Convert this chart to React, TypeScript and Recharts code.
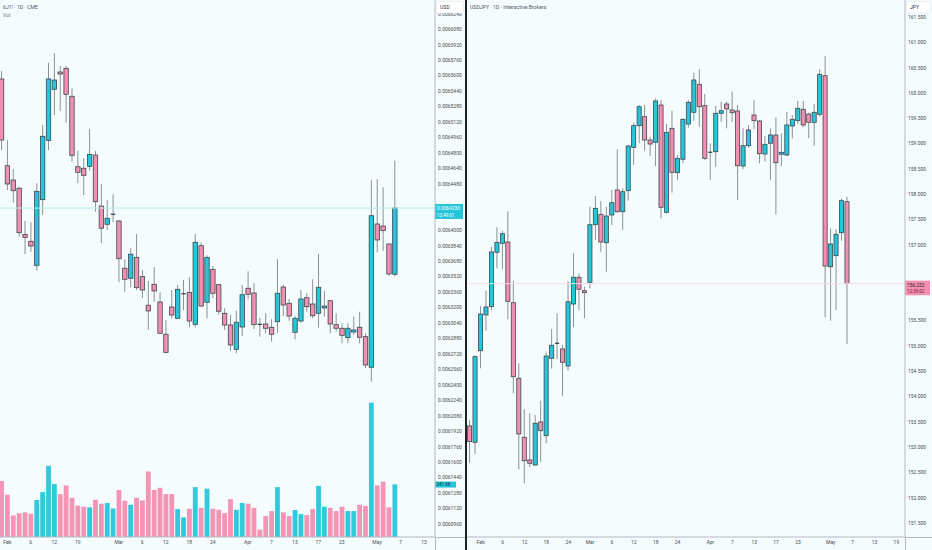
import React from 'react';
import { ComposedChart, Bar, XAxis, YAxis, ReferenceLine } from 'recharts';

const BG = '#F4FCFE';
const UP = '#26C6DA';
const DOWN = '#F48FB1';
const BORDER = '#3B4850';
const WICK = '#8C9196';
const AXIS = '#B4B9C1';
const TXT = '#4A4D52';
const FONT = 'Roboto, "Liberation Sans", sans-serif';

// ---------- 6J1! (CME) daily, index 0 = Jan 30 ----------
const jpyOpen = [
  0.0065566, 0.0064668, 0.006452, 0.0064435, 0.0063958, 0.0063886, 0.0063638, 0.0064317, 0.0064931, 0.0065459,
  0.0065638, 0.0065676, 0.0065387, 0.0064658, 0.0064642, 0.0064662, 0.0064779, 0.0064251, 0.0064062, 0.0064165,
  0.0064096, 0.0063607, 0.0063503, 0.006372, 0.006352, 0.0063224, 0.0063441, 0.0063258, 0.0062924, 0.0063206,
  0.0063089, 0.0063343, 0.0063358, 0.0063027, 0.006384, 0.0063255, 0.0063596, 0.0063437, 0.0063141, 0.006302,
  0.0062768, 0.0062999, 0.00634, 0.0063351, 0.0063028, 0.006303, 0.0062996, 0.0063054, 0.0063413, 0.0063244,
  0.0062944, 0.0063061, 0.0063302, 0.0063237, 0.0063141, 0.0063196, 0.0063271, 0.0063023, 0.0062986, 0.0062888,
  0.0062947, 0.0062996, 0.0062899, 0.0062582, 0.0064065, 0.0064044, 0.0063858, 0.0063545,
];
const jpyHigh = [
  0.0065648, 0.0064934, 0.0064634, 0.0064451, 0.0064096, 0.0064083, 0.0064486, 0.006509, 0.0065734, 0.0065832,
  0.00657, 0.00657, 0.0065469, 0.0064824, 0.0064745, 0.0065048, 0.0064821, 0.0064476, 0.0064313, 0.0064372,
  0.0064106, 0.00637, 0.0063814, 0.0063962, 0.0063589, 0.0063475, 0.006362, 0.0063358, 0.0063072, 0.0063382,
  0.0063434, 0.0063486, 0.0063513, 0.0063962, 0.0063872, 0.0063741, 0.006363, 0.0063445, 0.0063193, 0.0063123,
  0.0063168, 0.0063434, 0.0063576, 0.0063451, 0.0063095, 0.0063141, 0.0063079, 0.00637, 0.0063434, 0.0063289,
  0.0063113, 0.0063382, 0.0063348, 0.0063493, 0.0063755, 0.0063372, 0.0063279, 0.0063141, 0.0063037, 0.0063037,
  0.0063106, 0.0063157, 0.0062934, 0.006452, 0.0064528, 0.0064445, 0.0063865, 0.006472,
];
const jpyLow = [
  0.0064831, 0.0064417, 0.0064286, 0.0063934, 0.0063755, 0.0063778, 0.0063582, 0.0064161, 0.0064831, 0.0065193,
  0.0065235, 0.0065113, 0.006471, 0.0064486, 0.0064365, 0.0064617, 0.0064192, 0.0063865, 0.0064003, 0.0064083,
  0.0063462, 0.0063364, 0.006341, 0.0063382, 0.0063296, 0.0062968, 0.0063261, 0.0062927, 0.0062727, 0.0063089,
  0.0063079, 0.0063175, 0.0062996, 0.0062996, 0.0063209, 0.0063089, 0.0063296, 0.0063126, 0.0062968, 0.0062751,
  0.0062727, 0.0062906, 0.0063286, 0.0062978, 0.0062899, 0.0062934, 0.0062847, 0.0062934, 0.0063113, 0.0063064,
  0.0062872, 0.0063044, 0.0063157, 0.0063089, 0.0062992, 0.0063106, 0.0062934, 0.006295, 0.006283, 0.006283,
  0.0062916, 0.006283, 0.0062572, 0.0062433, 0.0063772, 0.0063789, 0.006353, 0.006352,
];
const jpyClose = [
  0.0064934, 0.0064479, 0.006441, 0.0063975, 0.0063927, 0.0063837, 0.0064403, 0.0064973, 0.0065566, 0.0065555,
  0.0065617, 0.0065407, 0.0064776, 0.00646, 0.0064569, 0.0064786, 0.0064296, 0.0064021, 0.0064124, 0.0064167,
  0.0063706, 0.0063493, 0.0063752, 0.0063406, 0.0063382, 0.0063165, 0.0063372, 0.0062934, 0.0062737, 0.0063123,
  0.0063389, 0.0063345, 0.0063061, 0.0063876, 0.0063216, 0.006372, 0.0063348, 0.0063162, 0.006302, 0.0062813,
  0.0063048, 0.0063333, 0.0063338, 0.0063023, 0.0063026, 0.0062986, 0.0062924, 0.0063348, 0.0063227, 0.0063113,
  0.0063089, 0.0063289, 0.0063209, 0.0063116, 0.006341, 0.0063216, 0.006303, 0.0062986, 0.0062913, 0.0062986,
  0.0062968, 0.0062893, 0.0062606, 0.0064151, 0.00639, 0.0063996, 0.0063548, 0.006423,
];
const jpyVolume = [
  257000, 194000, 99000, 109000, 113000, 107000, 170000, 206000, 327000, 243000,
  197000, 237000, 180000, 144000, 139000, 136000, 171000, 153000, 156000, 131000,
  216000, 167000, 148000, 180000, 168000, 301000, 216000, 226000, 197000, 197000,
  128000, 90000, 130000, 229000, 134000, 222000, 130000, 125000, 110000, 174000,
  125000, 156000, 153000, 134000, 34000, 96000, 119000, 229000, 113000, 96000,
  124000, 105000, 101000, 128000, 235000, 139000, 134000, 119000, 139000, 119000,
  119000, 148000, 142000, 617000, 237000, 254000, 136000, 241600,
];
const jpyPriceTicks = [
  0.006096, 0.006112, 0.006128, 0.006144, 0.00616, 0.006176, 0.006192, 0.006208, 0.006224, 0.00624,
  0.006256, 0.006272, 0.006288, 0.006304, 0.00632, 0.006336, 0.006352, 0.006368, 0.006384, 0.0064,
  0.006416, 0.006432, 0.006448, 0.006464, 0.00648, 0.006496, 0.006512, 0.006528, 0.006544, 0.00656,
  0.006576, 0.006592, 0.006608, 0.006624,
];
const jpyDateTickIdx = [1, 5, 9, 13, 20, 24, 28, 32, 36, 42, 46, 50, 54, 58, 64, 68, 72];
const jpyDateTickLabels = ['Feb', '6', '12', '19', 'Mar', '6', '12', '18', '24', 'Apr', '7', '13', '17', '23', 'May', '7', '13'];
const jpyLast = 0.006423;
const jpyLastVol = 241600;

// ---------- USDJPY (Interactive Brokers) daily, index -2 = Jan 29 ----------
const USD_FIRST_INDEX = -2;
const usdOpen = [
  153.419, 153.097, 154.907, 155.613, 155.777, 156.852, 157.03, 157.055, 155.856, 154.362,
  153.196, 152.747, 152.648, 153.498, 153.227, 154.757, 155.053, 154.941, 154.605, 155.83,
  156.358, 156.093, 156.259, 157.397, 157.603, 157.042, 157.589, 158.083, 157.654, 158.069,
  158.927, 159.354, 159.532, 159.071, 159.026, 159.763, 157.642, 159.302, 158.425, 158.69,
  159.387, 159.619, 160.172, 159.749, 158.828, 158.84, 159.599, 159.783, 159.664, 159.644,
  158.557, 158.958, 159.565, 159.447, 158.794, 159.006, 159.17, 158.789, 158.775, 159.348,
  159.453, 159.678, 159.585, 159.421, 159.579, 160.342, 156.567, 156.785, 157.239, 157.852,
];
const usdHigh = [
  153.538, 154.812, 155.791, 156.093, 156.962, 157.346, 157.273, 157.662, 156.291, 154.658,
  153.749, 153.67, 153.636, 153.919, 154.875, 155.336, 155.646, 155.02, 156.285, 156.832,
  156.437, 156.172, 157.753, 157.964, 157.866, 157.753, 158.083, 158.887, 158.117, 158.972,
  159.413, 159.763, 159.763, 159.136, 159.895, 159.862, 159.387, 159.65, 158.775, 159.5,
  159.862, 160.401, 160.468, 159.98, 159.006, 159.743, 159.828, 159.828, 160.026, 159.763,
  159.302, 159.368, 159.862, 159.466, 159.15, 159.302, 159.52, 159.204, 159.63, 159.565,
  159.842, 159.842, 159.611, 159.783, 160.468, 160.731, 157.326, 157.306, 157.919, 157.951,
];
const usdLow = [
  152.694, 152.866, 154.559, 155.302, 155.711, 156.536, 156.516, 155.528, 154.065, 152.563,
  152.287, 152.603, 152.638, 152.713, 153.077, 154.551, 154.737, 154.012, 154.512, 155.37,
  155.711, 155.547, 156.14, 157.095, 156.858, 156.468, 157.391, 157.634, 157.292, 157.872,
  158.577, 159.006, 158.86, 158.755, 158.557, 157.524, 157.619, 158.03, 158.281, 158.611,
  159.314, 159.453, 159.334, 158.676, 158.281, 158.543, 159.433, 159.302, 159.433, 157.885,
  158.498, 158.919, 159.289, 158.611, 158.642, 158.281, 157.603, 158.557, 158.755, 159.105,
  159.387, 159.322, 159.105, 158.958, 159.532, 155.567, 155.5, 155.711, 157.081, 155.04,
];
const usdClose = [
  153.109, 154.789, 155.632, 155.771, 156.858, 157.049, 157.219, 155.883, 154.393, 153.261,
  152.733, 152.682, 153.472, 153.326, 154.802, 155.014, 155.056, 154.678, 155.875, 156.358,
  156.121, 156.053, 157.397, 157.721, 157.055, 157.569, 157.832, 157.654, 158.049, 158.953,
  159.354, 159.729, 159.071, 158.992, 159.842, 157.741, 159.223, 158.433, 158.709, 159.48,
  159.816, 160.257, 159.729, 158.709, 158.831, 159.599, 159.65, 159.684, 159.611, 158.563,
  158.958, 159.269, 159.453, 158.8, 158.986, 159.17, 158.623, 158.828, 159.368, 159.48,
  159.698, 159.368, 159.421, 159.619, 160.37, 156.581, 157.016, 157.208, 157.872, 156.232,
];
const usdPriceTicks = [
  151.5, 152, 152.5, 153, 153.5, 154, 154.5, 155, 155.5, 156, 156.5,
  157, 157.5, 158, 158.5, 159, 159.5, 160, 160.5, 161, 161.5,
];
const usdDateTickIdx = [0, 4, 8, 12, 16, 20, 24, 28, 32, 36, 42, 46, 50, 54, 58, 64, 68, 72, 76];
const usdDateTickLabels = ['Feb', '6', '12', '18', '24', 'Mar', '6', '12', '18', '24', 'Apr', '7', '13', '17', '23', 'May', '7', '13', '19'];
const usdLast = 156.232;

// ---------- tables for the library ----------
const jpyRows = jpyOpen.map((o, k) => ({
  i: k,
  o,
  h: jpyHigh[k],
  l: jpyLow[k],
  c: jpyClose[k],
  range: [jpyLow[k], jpyHigh[k]],
  vol: jpyVolume[k],
}));
const usdRows = usdOpen.map((o, k) => ({
  i: k + USD_FIRST_INDEX,
  o,
  h: usdHigh[k],
  l: usdLow[k],
  c: usdClose[k],
  range: [usdLow[k], usdHigh[k]],
}));

const JPY_X_DOMAIN: [number, number] = [-0.2385, 73.867];
const JPY_Y_DOMAIN: [number, number] = [0.00608258, 0.00663832];
const VOL_DOMAIN: [number, number] = [0, 2466000];
const USD_X_DOMAIN: [number, number] = [-2.5046, 77.569];
const USD_Y_DOMAIN: [number, number] = [151.225, 161.838];

function Candle(props: any) {
  const { x, y, width, height, payload, bw } = props;
  if (!payload || x == null) return null;
  const { o, h, l, c } = payload;
  const top = Math.min(y, y + height);
  const bot = Math.max(y, y + height);
  const span = h - l;
  const py = (v: number) => (span > 0 ? top + ((h - v) / span) * (bot - top) : top);
  const cx = x + width / 2;
  const yo = py(o);
  const yc = py(c);
  const bTop = Math.min(yo, yc);
  const bH = Math.abs(yo - yc);
  const up = c >= o;
  return (
    <g>
      <line x1={cx} x2={cx} y1={top} y2={bot} stroke={WICK} strokeWidth={1} />
      {bH < 1.3 ? (
        <rect x={cx - bw / 2} y={bTop - 0.5} width={bw} height={1.3} fill={BORDER} />
      ) : (
        <rect
          x={cx - bw / 2}
          y={bTop}
          width={bw}
          height={bH}
          fill={up ? UP : DOWN}
          stroke={BORDER}
          strokeWidth={0.8}
        />
      )}
    </g>
  );
}

function VolBar(props: any) {
  const { x, y, width, height, payload } = props;
  if (!payload || x == null) return null;
  const cx = x + width / 2;
  const top = Math.min(y, y + height);
  return (
    <rect
      x={cx - 2.4}
      y={top}
      width={4.8}
      height={Math.abs(height)}
      fill={payload.c >= payload.o ? UP : DOWN}
      fillOpacity={0.95}
    />
  );
}

// Tick labels that sit under the live-price badge are covered in the reference.
function PriceTick(props: any) {
  const { x, y, payload, digits, hideNear, hideTol } = props;
  if (Math.abs(Number(payload.value) - hideNear) < hideTol) return null;
  return (
    <text x={x} y={y + 1.8} fontSize={5} fill={TXT} fontFamily={FONT} textAnchor="start">
      {Number(payload.value).toFixed(digits)}
    </text>
  );
}

function DateTick(props: any) {
  const { x, y, payload, idx, labels } = props;
  const k = idx.indexOf(payload.value);
  if (k < 0) return null;
  return (
    <text x={x} y={y + 7} fontSize={5} fill={TXT} fontFamily={FONT} textAnchor="middle">
      {labels[k]}
    </text>
  );
}

function PriceTag(props: any) {
  const { viewBox, line1, line2, bg, fg1, fg2, w, dyTop, h } = props;
  if (!viewBox) return null;
  const x = viewBox.x + viewBox.width;
  const y = viewBox.y;
  return (
    <g>
      <rect x={x} y={y - dyTop} width={w} height={h} fill={bg} />
      <text x={x + 2} y={y - dyTop + 6} fontSize={4.8} fill={fg1} fontFamily={FONT}>
        {line1}
      </text>
      <text x={x + 2} y={y - dyTop + 12.8} fontSize={4.5} fill={fg2} fontFamily={FONT}>
        {line2}
      </text>
    </g>
  );
}

function VolTag(props: any) {
  const { viewBox, text } = props;
  if (!viewBox) return null;
  const x = viewBox.x + viewBox.width;
  const y = viewBox.y;
  return (
    <g>
      <rect x={x} y={y - 2.8} width={21} height={6} fill={UP} />
      <text x={x + 1.5} y={y + 1.7} fontSize={4.5} fill="#10343a" fontFamily={FONT}>
        {text}
      </text>
    </g>
  );
}

export default function App() {
  return (
    <div
      style={{
        position: 'absolute',
        left: 0,
        top: 0,
        width: 932,
        height: 550,
        background: BG,
        overflow: 'hidden',
        fontFamily: FONT,
      }}
    >
      {/* Left pane: 6J1! */}
      <div style={{ position: 'absolute', left: 0, top: 0 }}>
        <ComposedChart width={465} height={550} data={jpyRows} margin={{ top: 0, right: 0, bottom: 0, left: 0 }}>
          <XAxis xAxisId="vx" dataKey="i" type="number" domain={JPY_X_DOMAIN} allowDataOverflow hide />
          <YAxis yAxisId="vol" type="number" domain={VOL_DOMAIN} allowDataOverflow hide />
          <XAxis
            dataKey="i"
            type="number"
            domain={JPY_X_DOMAIN}
            allowDataOverflow
            ticks={jpyDateTickIdx}
            interval={0}
            height={13}
            tickLine={false}
            tickSize={0}
            tickMargin={0}
            axisLine={{ stroke: AXIS }}
            tick={<DateTick idx={jpyDateTickIdx} labels={jpyDateTickLabels} />}
          />
          <YAxis
            orientation="right"
            type="number"
            width={30}
            domain={JPY_Y_DOMAIN}
            allowDataOverflow
            ticks={jpyPriceTicks}
            interval={0}
            tickLine={false}
            tickSize={0}
            tickMargin={3}
            axisLine={{ stroke: AXIS }}
            tick={<PriceTick digits={7} hideNear={jpyLast} hideTol={0.0000095} />}
          />
          <Bar
            xAxisId="vx"
            yAxisId="vol"
            dataKey="vol"
            shape={(p: any) => <VolBar {...p} />}
            isAnimationActive={false}
          />
          <ReferenceLine y={jpyLast} stroke="#B6ECF3" strokeWidth={1} />
          <Bar dataKey="range" shape={(p: any) => <Candle {...p} bw={4.4} />} isAnimationActive={false} />
          <ReferenceLine
            y={jpyLast}
            stroke="none"
            label={
              <PriceTag
                line1="0.0064230"
                line2="13:49:01"
                bg={UP}
                fg1="#ffffff"
                fg2="#ffffff"
                w={28}
                dyTop={4.1}
                h={15}
              />
            }
          />
          <ReferenceLine
            xAxisId="vx"
            yAxisId="vol"
            y={jpyLastVol}
            stroke="none"
            label={<VolTag text="241.6K" />}
          />
        </ComposedChart>
      </div>

      {/* Right pane: USDJPY */}
      <div style={{ position: 'absolute', left: 467, top: 0 }}>
        <ComposedChart width={465} height={550} data={usdRows} margin={{ top: 0, right: 0, bottom: 0, left: 0 }}>
          <XAxis
            dataKey="i"
            type="number"
            domain={USD_X_DOMAIN}
            allowDataOverflow
            ticks={usdDateTickIdx}
            interval={0}
            height={13}
            tickLine={false}
            tickSize={0}
            tickMargin={0}
            axisLine={{ stroke: AXIS }}
            tick={<DateTick idx={usdDateTickIdx} labels={usdDateTickLabels} />}
          />
          <YAxis
            orientation="right"
            type="number"
            width={27}
            domain={USD_Y_DOMAIN}
            allowDataOverflow
            ticks={usdPriceTicks}
            interval={0}
            tickLine={false}
            tickSize={0}
            tickMargin={3}
            axisLine={{ stroke: AXIS }}
            tick={<PriceTick digits={3} hideNear={usdLast} hideTol={0.3} />}
          />
          <ReferenceLine y={usdLast} stroke="#F5DCE4" strokeWidth={1} />
          <Bar dataKey="range" shape={(p: any) => <Candle {...p} bw={4.1} />} isAnimationActive={false} />
          <ReferenceLine
            y={usdLast}
            stroke="none"
            label={
              <PriceTag
                line1="156.232"
                line2="12:39:02"
                bg={DOWN}
                fg1="#2a1a20"
                fg2="#6b1d35"
                w={25}
                dyTop={3}
                h={14.6}
              />
            }
          />
        </ComposedChart>
      </div>

      {/* Frame, headers and scale badges */}
      <svg
        width={932}
        height={550}
        style={{ position: 'absolute', left: 0, top: 0, pointerEvents: 'none' }}
      >
        <line x1={435} x2={465} y1={537.5} y2={537.5} stroke={AXIS} strokeWidth={1} />
        <line x1={435.5} x2={435.5} y1={537} y2={550} stroke={AXIS} strokeWidth={1} />
        <line x1={905} x2={932} y1={537.5} y2={537.5} stroke={AXIS} strokeWidth={1} />
        <line x1={905.5} x2={905.5} y1={537} y2={550} stroke={AXIS} strokeWidth={1} />
        <rect x={465} y={0} width={2} height={550} fill="#1E2126" />

        <text x={3} y={8.8} fontSize={5.2} fill="#55585d" fontFamily={FONT}>
          6J1! · 1D · CME
        </text>
        <text x={3} y={16.6} fontSize={5.2} fill="#6a6d72" fontFamily={FONT}>
          Vol
        </text>
        <text x={470} y={8.8} fontSize={5.2} fill="#55585d" fontFamily={FONT}>
          USDJPY · 1D · Interactive Brokers
        </text>

        <rect x={436.5} y={1.5} width={27} height={11.5} rx={1.5} fill="#ffffff" stroke="#e3e6ea" strokeWidth={0.6} />
        <text x={440} y={9.3} fontSize={5} fill="#333" fontFamily={FONT}>
          USD
        </text>
        <rect x={906.5} y={1.5} width={24} height={11.5} rx={1.5} fill="#ffffff" stroke="#e3e6ea" strokeWidth={0.6} />
        <text x={910} y={9.3} fontSize={5} fill="#333" fontFamily={FONT}>
          JPY
        </text>
      </svg>
    </div>
  );
}
